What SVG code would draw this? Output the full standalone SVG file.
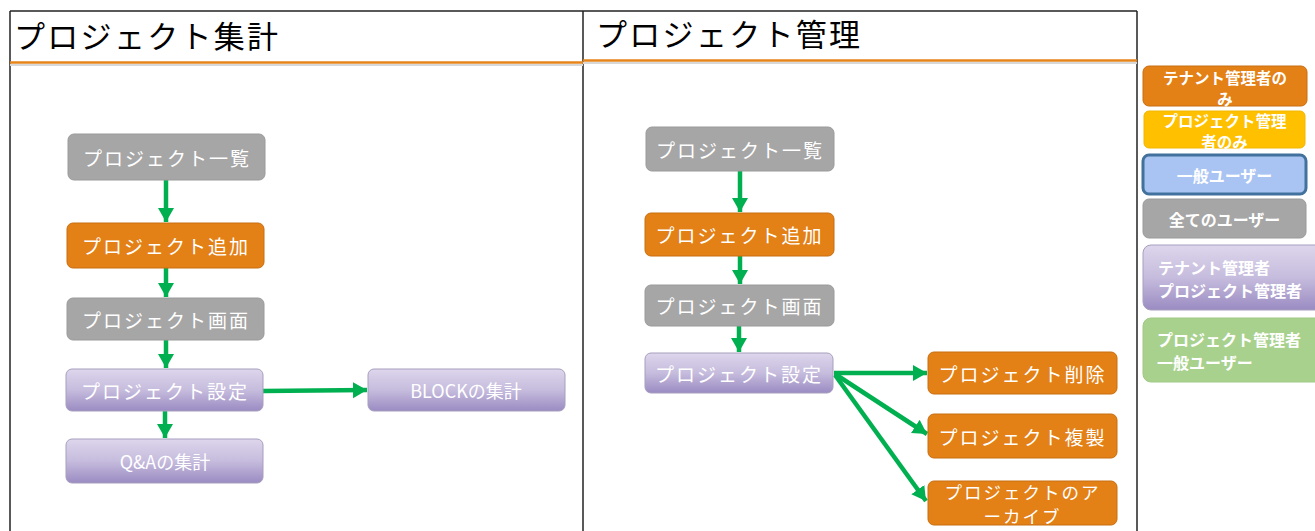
<svg xmlns="http://www.w3.org/2000/svg" width="1315" height="531" viewBox="0 0 1315 531">
<defs>
<linearGradient id="gp" x1="0" y1="0" x2="0" y2="1">
<stop offset="0" stop-color="#DDD6EC"/>
<stop offset="0.5" stop-color="#C6BCDD"/>
<stop offset="1" stop-color="#9A8BC2"/>
</linearGradient>
<marker id="ah" markerUnits="userSpaceOnUse" markerWidth="18" markerHeight="18" refX="14" refY="9" orient="auto">
<path d="M0,1 L14,9 L0,17 z" fill="#00B050"/>
</marker>
<style>
.t{font-family:"Noto Sans CJK JP","Noto Sans",sans-serif;fill:#fff;font-size:19px;letter-spacing:2px;text-anchor:middle;dominant-baseline:central}
.lg{font-family:"Noto Sans CJK JP","Noto Sans",sans-serif;fill:#fff;font-size:16px;font-weight:bold;text-anchor:middle;dominant-baseline:central}
.sm{font-size:15.5px}
.lgl{text-anchor:start}
.title{font-family:"Noto Sans CJK JP","Noto Sans",sans-serif;fill:#000;font-size:31px;letter-spacing:2.3px}
.gray{fill:#A6A6A6;stroke:#9A9A9A;stroke-width:1}
.orange{fill:#E38016;stroke:#C86E10;stroke-width:1}
.purple{fill:url(#gp);stroke:#A79FBE;stroke-width:1}
.yellow{fill:#FFC000;stroke:#F2B600;stroke-width:1}
.blue{fill:#A9C4F2;stroke:#41719C;stroke-width:3}
.green{fill:#A9D18E;stroke:#A0C985;stroke-width:1}
.c{stroke:#00B050;stroke-width:4.5;fill:none;marker-end:url(#ah)}
</style>
</defs>
<rect width="1315" height="531" fill="#fff"/>
<g id="frame" stroke="#222" stroke-width="1.5" fill="none">
<line x1="10" y1="11" x2="1137" y2="11"/>
<line x1="10" y1="11" x2="10" y2="531"/>
<line x1="583" y1="11" x2="583" y2="531"/>
<line x1="1137" y1="11" x2="1137" y2="531"/>
</g>
<g id="titles">
<line x1="10" y1="65" x2="583" y2="65" stroke="#D8D8D8" stroke-width="2"/>
<line x1="10" y1="62.5" x2="583" y2="62.5" stroke="#E6841A" stroke-width="2.5"/>
<line x1="583" y1="63" x2="1137" y2="63" stroke="#D8D8D8" stroke-width="2"/>
<line x1="583" y1="60.5" x2="1137" y2="60.5" stroke="#E6841A" stroke-width="2.5"/>
<text class="title" x="14" y="48">プロジェクト集計</text>
<text class="title" x="596" y="46">プロジェクト管理</text>
</g>
<g id="connectors">
<line class="c" x1="166" y1="180" x2="166" y2="222"/>
<line class="c" x1="166" y1="268" x2="166" y2="297"/>
<line class="c" x1="166" y1="340" x2="166" y2="368"/>
<line class="c" x1="165" y1="411" x2="165" y2="438"/>
<line class="c" x1="263" y1="391" x2="367" y2="390"/>
<line class="c" x1="740" y1="171" x2="740" y2="212"/>
<line class="c" x1="740" y1="256" x2="740" y2="284"/>
<line class="c" x1="739" y1="326" x2="739" y2="352"/>
<line class="c" x1="834" y1="373" x2="927" y2="373"/>
<line class="c" x1="835" y1="374" x2="927" y2="434"/>
<line class="c" x1="835" y1="375" x2="926" y2="501"/>
</g>
<g id="l-list"><rect class="gray" x="68" y="134" width="197" height="46" rx="6"/><text class="t" x="167" y="157">プロジェクト一覧</text></g>
<g id="l-add"><rect class="orange" x="67" y="223" width="197" height="45" rx="6"/><text class="t" x="166" y="245.5">プロジェクト追加</text></g>
<g id="l-screen"><rect class="gray" x="67" y="298" width="197" height="42" rx="6"/><text class="t" x="166" y="319">プロジェクト画面</text></g>
<g id="l-settings"><rect class="purple" x="66" y="369" width="197" height="42" rx="6"/><text class="t" x="165" y="390">プロジェクト設定</text></g>
<g id="l-block"><rect class="purple" x="368" y="369" width="197" height="42" rx="6"/><text class="t" x="466" y="390" style="letter-spacing:0;font-size:18px">BLOCKの集計</text></g>
<g id="l-qa"><rect class="purple" x="66" y="439" width="197" height="44" rx="6"/><text class="t" x="165" y="461" style="letter-spacing:0;font-size:18px">Q&amp;Aの集計</text></g>
<g id="r-list"><rect class="gray" x="646" y="127" width="188" height="44" rx="6"/><text class="t" x="740" y="149">プロジェクト一覧</text></g>
<g id="r-add"><rect class="orange" x="645" y="213" width="189" height="43" rx="6"/><text class="t" x="739.5" y="234.5">プロジェクト追加</text></g>
<g id="r-screen"><rect class="gray" x="645" y="285" width="189" height="41" rx="6"/><text class="t" x="739.5" y="305.5">プロジェクト画面</text></g>
<g id="r-settings"><rect class="purple" x="645" y="353" width="188" height="40" rx="6"/><text class="t" x="739" y="373">プロジェクト設定</text></g>
<g id="r-delete"><rect class="orange" x="928" y="352" width="189" height="42" rx="6"/><text class="t" x="1022.5" y="373">プロジェクト削除</text></g>
<g id="r-copy"><rect class="orange" x="928" y="414" width="189" height="44" rx="6"/><text class="t" x="1022.5" y="436">プロジェクト複製</text></g>
<g id="r-archive"><rect class="orange" x="928" y="481" width="189" height="44" rx="6"/><text class="t" x="1022.5" y="491" style="font-size:17.5px">プロジェクトのア</text><text class="t" x="1022.5" y="515" style="font-size:17.5px">ーカイブ</text></g>
<g id="lg-tenant"><rect class="orange" x="1143" y="66" width="164" height="40" rx="6"/><text class="lg sm" x="1225" y="76.5">テナント管理者の</text><text class="lg sm" x="1225" y="97.5">み</text></g>
<g id="lg-project"><rect class="yellow" x="1144" y="111" width="161" height="37" rx="5"/><text class="lg sm" x="1224.5" y="119.5">プロジェクト管理</text><text class="lg sm" x="1224.5" y="140.5">者のみ</text></g>
<g id="lg-general"><rect class="blue" x="1143" y="155" width="163" height="39" rx="6"/><text class="lg" x="1224.5" y="174.5">一般ユーザー</text></g>
<g id="lg-all"><rect class="gray" x="1143" y="199" width="163" height="39" rx="6"/><text class="lg" x="1224.5" y="218.5">全てのユーザー</text></g>
<g id="lg-tp"><rect class="purple" x="1143" y="245" width="180" height="65" rx="8"/><text class="lg lgl" x="1158" y="267">テナント管理者</text><text class="lg lgl" x="1158" y="290">プロジェクト管理者</text></g>
<g id="lg-pg"><rect class="green" x="1143" y="318" width="180" height="64" rx="8"/><text class="lg lgl" x="1157" y="339">プロジェクト管理者</text><text class="lg lgl" x="1157" y="362">一般ユーザー</text></g>
</svg>
